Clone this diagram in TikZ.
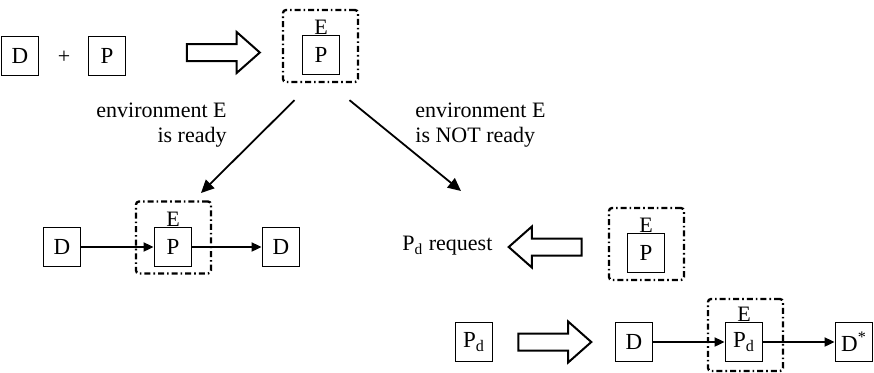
\documentclass[tikz,border=0pt]{standalone}
\usepackage{fontspec}
\setmainfont{Liberation Serif}
\usetikzlibrary{arrows.meta,calc,shapes.arrows}

\tikzset{
  caja/.style={draw, line width=0.9pt, minimum width=18.5pt, minimum height=19.5pt,
    inner sep=0pt, font=\fontsize{11.5}{13}\selectfont},
  entorno/.style={draw, line width=1.15pt, rounded corners=1.5pt,
    dash pattern=on 3pt off 1.5pt on 0.8pt off 1.5pt,
    minimum width=37.5pt, minimum height=36pt, inner sep=0pt},
  flecha/.style={draw, single arrow, line width=1pt, inner sep=3.75pt,
    single arrow head extend=6pt, single arrow tip angle=83,
    minimum height=36.5pt},
  etiqueta/.style={font=\fontsize{11}{12.5}\selectfont, inner sep=0pt},
  conector/.style={line width=0.9pt, -{Triangle[length=5pt,width=4.5pt]}}
}

\begin{document}
\begin{tikzpicture}[x=0.5pt, y=-0.5pt]
      \useasboundingbox (0,0) rectangle (874,372);

      % Fila superior: D + P
      \node[caja] (d0) at (20,56) {D};
      \node[etiqueta] (mas) at (64,57) {+};
      \node[caja] (p0) at (107,56) {P};
      \node[flecha] (f0) at (218.5,52.5) {};

      % Entorno E con P
      \node[entorno] (env1) at (320.5,46) {};
      \node[caja] (p1) at (321,55) {P};
      \node[etiqueta, anchor=south] (e1) at (p1.north) {E};

      % Etiquetas de las ramas
      \node[etiqueta, align=right, anchor=east] (listo) at (227,125)
        {environment E\\is ready};
      \node[etiqueta, align=left, anchor=west] (nolisto) at (415,125)
        {environment E\\is NOT ready};

      % Ramas
      \coordinate (fin) at (461,191);
      \draw[conector, line width=0.9pt, -{Triangle[length=6.5pt,width=6pt]}]
        ($(env1.south)+(-26,17)$) -- (201,193);
      \draw[conector, line width=0.9pt, -{Triangle[length=6.5pt,width=6pt]}]
        ($(env1.south)+(29,17)$) -- (fin);

      % Entorno listo: D -> P -> D
      \node[entorno] (env2) at (173.5,237.5) {};
      \node[caja] (d1) at (62,247) {D};
      \node[caja] (p2) at (173,247) {P};
      \node[etiqueta, anchor=south] (e2) at (p2.north) {E};
      \node[caja] (d2) at (281,247) {D};
      \draw[conector] (d1) -- (p2);
      \draw[conector] (p2) -- (d2);

      % Entorno no listo: peticion de Pd
      \node[etiqueta, anchor=west] (pet) at (402,246) {P\textsubscript{d} request};
      \node[flecha, shape border rotate=180] (f1) at (550,247) {};
      \node[entorno] (env3) at (646.5,244) {};
      \node[caja] (p3) at (646,253) {P};
      \node[etiqueta, anchor=south] (e3) at (p3.north) {E};

      % Fila inferior: Pd => D -> Pd -> D*
      \node[caja] (pd0) at (474,342) {P\textsubscript{d}};
      \node[flecha] (f2) at (550,342) {};
      \node[caja] (d3) at (634,342) {D};
      \node[entorno] (env4) at (745.5,335) {};
      \node[caja] (pd1) at (744,342) {P\textsubscript{d}};
      \node[etiqueta, anchor=south] (e4) at (pd1.north) {E};
      \node[caja] (d4) at (854,342) {D\textsuperscript{*}};
      \draw[conector] (d3) -- (pd1);
      \draw[conector] (pd1) -- (d4);
    \end{tikzpicture}
\end{document}
